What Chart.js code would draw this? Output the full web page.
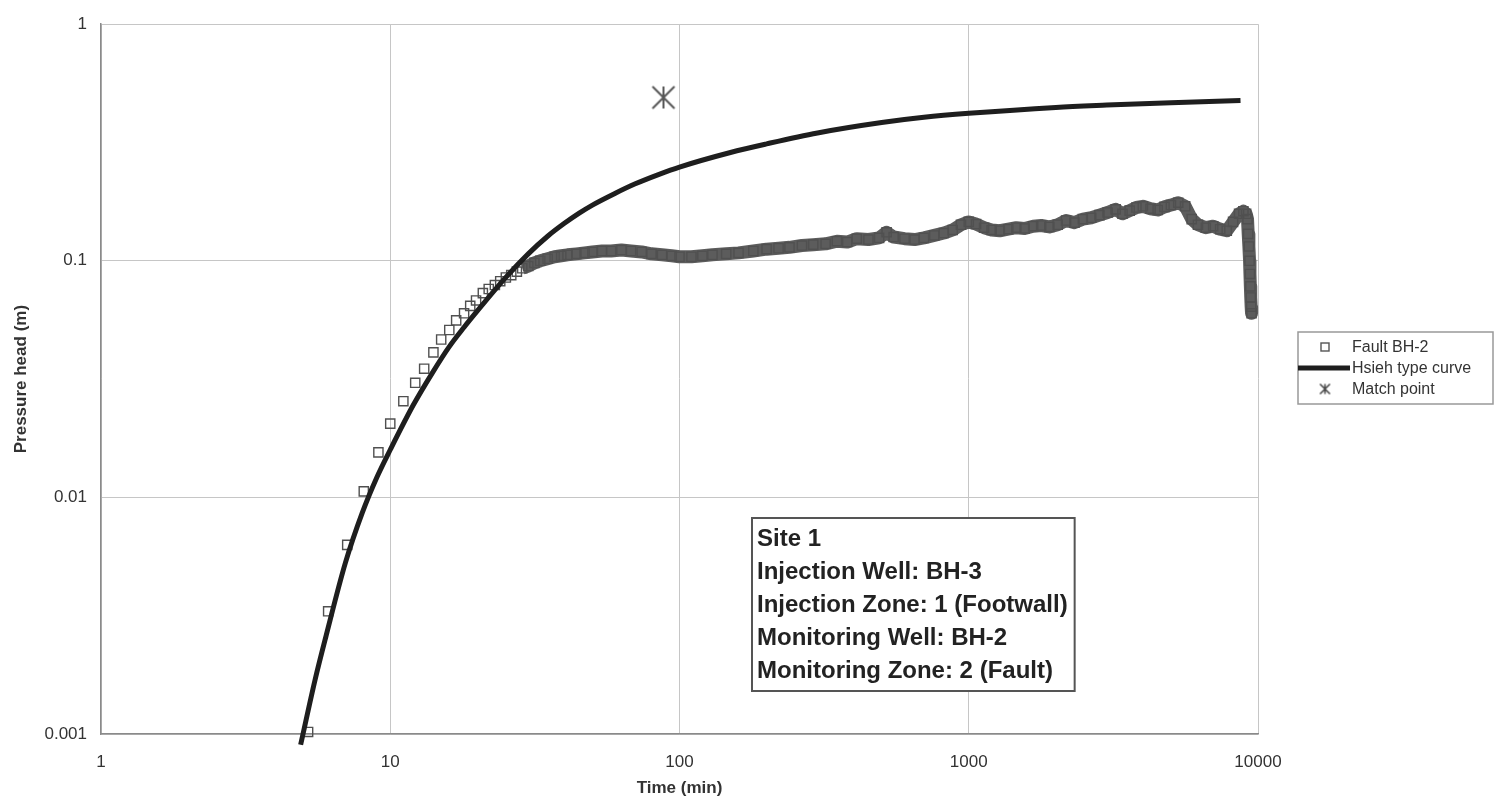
<!DOCTYPE html>
<html>
<head>
<meta charset="utf-8">
<title>Site 1 - Fault BH-2 pressure head</title>
<script src="https://cdn.jsdelivr.net/npm/chart.js@4.4.1/dist/chart.umd.min.js"></script>
<style>
  html, body { margin: 0; padding: 0; background: #fff; }
  #wrap { width: 1497px; height: 807px; }
</style>
</head>
<body>
<div id="wrap"><canvas id="c" width="1497" height="807"></canvas></div>
<script>
/* Pressure head vs time, log-log, with the Hsieh type curve fitted over it. */

const xTicks = [1, 10, 100, 1000, 10000];
const xTickLabels = ["1", "10", "100", "1000", "10000"];
const yTicks = [0.001, 0.01, 0.1, 1];
const yTickLabels = ["0.001", "0.01", "0.1", "1"];

// Fault BH-2 (monitoring well), time in min, head in m
const faultTime = [5.2, 6.1, 7.1, 8.1, 9.1, 10.0, 11.1, 12.2, 13.1, 14.1,
  15.0, 16.0, 16.9, 18.0, 18.9, 19.8, 20.9, 21.9, 23.0, 24.0,
  25.1, 26.2, 27.4, 28.6, 30, 31.5, 33, 35, 37, 39,
  41, 44, 47, 50, 54, 58, 63, 68, 74, 80,
  87, 94, 100, 110, 120, 130, 145, 160, 180, 200,
  220, 240, 265, 290, 320, 350, 380, 410, 450, 490,
  520, 550, 600, 650, 700, 760, 820, 880, 940, 1000,
  1060, 1130, 1200, 1280, 1370, 1460, 1560, 1670, 1780, 1900,
  2030, 2170, 2320, 2480, 2650, 2830, 3020, 3220, 3400, 3600,
  3800, 4000, 4250, 4500, 4750, 5000, 5300, 5600, 5900, 6200,
  6600, 7000, 7400, 7800, 8200, 8600, 8900, 9100, 9200, 9250,
  9300, 9350, 9380, 9410, 9440, 9470, 9500];
const faultHead = [0.00102, 0.0033, 0.0063, 0.0106, 0.0155, 0.0205, 0.0255, 0.0305, 0.035, 0.041,
  0.0465, 0.051, 0.056, 0.060, 0.0645, 0.068, 0.073, 0.076, 0.079, 0.082,
  0.085, 0.087, 0.090, 0.093, 0.095, 0.098, 0.100, 0.102, 0.104, 0.105,
  0.106, 0.107, 0.108, 0.109, 0.110, 0.110, 0.111, 0.110, 0.109, 0.107,
  0.106, 0.105, 0.104, 0.104, 0.105, 0.106, 0.107, 0.108, 0.110, 0.112,
  0.113, 0.114, 0.116, 0.117, 0.118, 0.121, 0.120, 0.124, 0.123, 0.125,
  0.132, 0.126, 0.124, 0.123, 0.125, 0.128, 0.131, 0.135, 0.142, 0.146,
  0.143, 0.138, 0.135, 0.134, 0.136, 0.138, 0.137, 0.140, 0.141, 0.139,
  0.142, 0.148, 0.145, 0.150, 0.152, 0.156, 0.160, 0.165, 0.158, 0.163,
  0.168, 0.170, 0.166, 0.164, 0.169, 0.172, 0.176, 0.170, 0.150, 0.142,
  0.138, 0.140, 0.136, 0.134, 0.146, 0.158, 0.162, 0.158, 0.150, 0.130,
  0.115, 0.100, 0.088, 0.078, 0.070, 0.064, 0.060];

// Hsieh type curve
const hsiehTime = [4.9, 5.5, 6, 7, 8, 9, 10, 12, 14, 16, 18, 20, 25, 30, 35, 40, 45, 50,
  60, 70, 85, 100, 150, 200, 300, 500, 700, 1000, 2000, 3000, 5000, 8700];
const hsiehHead = [0.0009, 0.0017, 0.0026, 0.0053, 0.0086, 0.0122, 0.0159, 0.0245, 0.0337,
  0.0434, 0.0524, 0.0614, 0.0847, 0.107, 0.127, 0.144, 0.159, 0.172,
  0.193, 0.211, 0.232, 0.249, 0.287, 0.312, 0.347, 0.384, 0.404, 0.42, 0.445, 0.455, 0.466, 0.476];

const matchTime = [88];
const matchHead = [0.49];

const infoLines = ["Site 1", "Injection Well: BH-3", "Injection Zone: 1 (Footwall)",
  "Monitoring Well: BH-2", "Monitoring Zone: 2 (Fault)"];

const FONT = "'Liberation Sans', Arial, Helvetica, sans-serif";
const TEXT = "#333";
Chart.defaults.font.family = FONT;

const pairs = (xs, ys) => xs.map((x, i) => ({ x, y: ys[i] }));

// Excel-style star marker: an X with a vertical bar through it
function starMark(half, color, lw) {
  const size = Math.ceil(half * 2 + lw * 2);
  const c = document.createElement("canvas");
  c.width = c.height = size;
  const g = c.getContext("2d"), m = size / 2;
  g.strokeStyle = color; g.lineWidth = lw;
  g.beginPath();
  g.moveTo(m, m - half); g.lineTo(m, m + half);
  g.moveTo(m - half, m - half); g.lineTo(m + half, m + half);
  g.moveTo(m - half, m + half); g.lineTo(m + half, m - half);
  g.stroke();
  return c;
}
const bigStar = starMark(11, "#555", 2);
const smallStar = starMark(5, "#444", 1.5);

const legendBox = {
  id: "legendBox",
  afterDraw(chart) {
    const { ctx } = chart;
    const ds = chart.data.datasets;
    const x = 1298, y = 332, w = 195, h = 72, row = 21;
    ctx.save();
    ctx.fillStyle = "#fff";
    ctx.fillRect(x, y, w, h);
    ctx.strokeStyle = "#999";
    ctx.lineWidth = 1.5;
    ctx.strokeRect(x, y, w, h);
    ctx.font = "16px " + FONT;
    ctx.fillStyle = TEXT;
    ctx.textBaseline = "middle";
    [1, 0, 2].forEach((di, k) => {
      const cy = y + 15 + k * row;
      const d = ds[di];
      if (di === 1) {
        ctx.strokeStyle = "#555"; ctx.lineWidth = 1.4;
        ctx.strokeRect(x + 23, cy - 4, 8, 8);
      } else if (di === 0) {
        ctx.strokeStyle = d.borderColor; ctx.lineWidth = 5;
        ctx.beginPath(); ctx.moveTo(x, cy); ctx.lineTo(x + 52, cy); ctx.stroke();
      } else {
        ctx.drawImage(smallStar, x + 27 - smallStar.width / 2, cy - smallStar.height / 2);
      }
      ctx.fillText(d.label, x + 54, cy + 1);
    });
    ctx.restore();
  }
};

const infoBox = {
  id: "infoBox",
  afterDraw(chart) {
    const { ctx } = chart;
    const x = 752, y = 518, lh = 33;
    ctx.save();
    ctx.font = "bold 24px " + FONT;
    const w = Math.max(...infoLines.map(t => ctx.measureText(t).width)) + 12;
    const h = infoLines.length * lh + 8;
    ctx.fillStyle = "#fff";
    ctx.fillRect(x, y, w, h);
    ctx.strokeStyle = "#555";
    ctx.lineWidth = 2;
    ctx.strokeRect(x, y, w, h);
    ctx.fillStyle = "#222";
    ctx.textBaseline = "middle";
    infoLines.forEach((t, i) => ctx.fillText(t, x + 5, y + 21 + i * lh));
    ctx.restore();
  }
};

const tickFont = { size: 17 };
const titleFont = { size: 17, weight: "bold" };

new Chart(document.getElementById("c"), {
  type: "scatter",
  data: {
    datasets: [
      {
        label: "Hsieh type curve",
        data: pairs(hsiehTime, hsiehHead),
        showLine: true,
        borderColor: "#1e1e1e",
        borderWidth: 5,
        pointRadius: 0,
        cubicInterpolationMode: "monotone",
        clip: false,
        order: 0
      },
      {
        label: "Fault BH-2",
        data: pairs(faultTime, faultHead),
        showLine: true,
        borderColor: "#5c5c5c",
        borderWidth: 13,
        borderJoinStyle: "round",
        segment: { borderColor: c => c.p0.parsed.x < 28 ? "rgba(0,0,0,0)" : "#5c5c5c" },
        pointStyle: "rect",
        pointRadius: 6.5,
        pointBorderWidth: 1.4,
        pointBorderColor: "#505050",
        pointBackgroundColor: "rgba(255,255,255,0)",
        clip: false,
        order: 1
      },
      {
        label: "Match point",
        data: pairs(matchTime, matchHead),
        pointStyle: bigStar,
        pointRadius: 12,
        order: 2
      }
    ]
  },
  options: {
    responsive: false,
    animation: false,
    devicePixelRatio: 1,
    layout: { padding: { left: 0, top: 16, right: 239, bottom: 0 } },
    plugins: { legend: { display: false }, tooltip: { enabled: false } },
    scales: {
      x: {
        type: "logarithmic", min: 1, max: 10000,
        afterBuildTicks: s => { s.ticks = xTicks.map(v => ({ value: v })); },
        afterFit: s => { s.height = 73; },
        ticks: {
          callback: v => xTickLabels[xTicks.indexOf(v)],
          font: tickFont, color: TEXT, padding: 18, maxRotation: 0, autoSkip: false
        },
        grid: { color: "#c6c6c6", lineWidth: 1, drawTicks: false },
        border: { color: "#8a8a8a", width: 1.5 },
        title: { display: true, text: "Time (min)", font: titleFont, color: TEXT, padding: { top: 0, bottom: 8 } }
      },
      y: {
        type: "logarithmic", min: 0.001, max: 1,
        afterBuildTicks: s => { s.ticks = yTicks.map(v => ({ value: v })); },
        afterFit: s => { s.width = 101; },
        ticks: {
          callback: v => yTickLabels[yTicks.indexOf(v)],
          font: tickFont, color: TEXT, padding: 14, autoSkip: false
        },
        grid: { color: "#c6c6c6", lineWidth: 1, drawTicks: false },
        border: { color: "#8a8a8a", width: 1.5 },
        title: { display: true, text: "Pressure head (m)", font: titleFont, color: TEXT, padding: { top: 11, bottom: 0 } }
      }
    }
  },
  plugins: [legendBox, infoBox]
});
</script>
</body>
</html>
